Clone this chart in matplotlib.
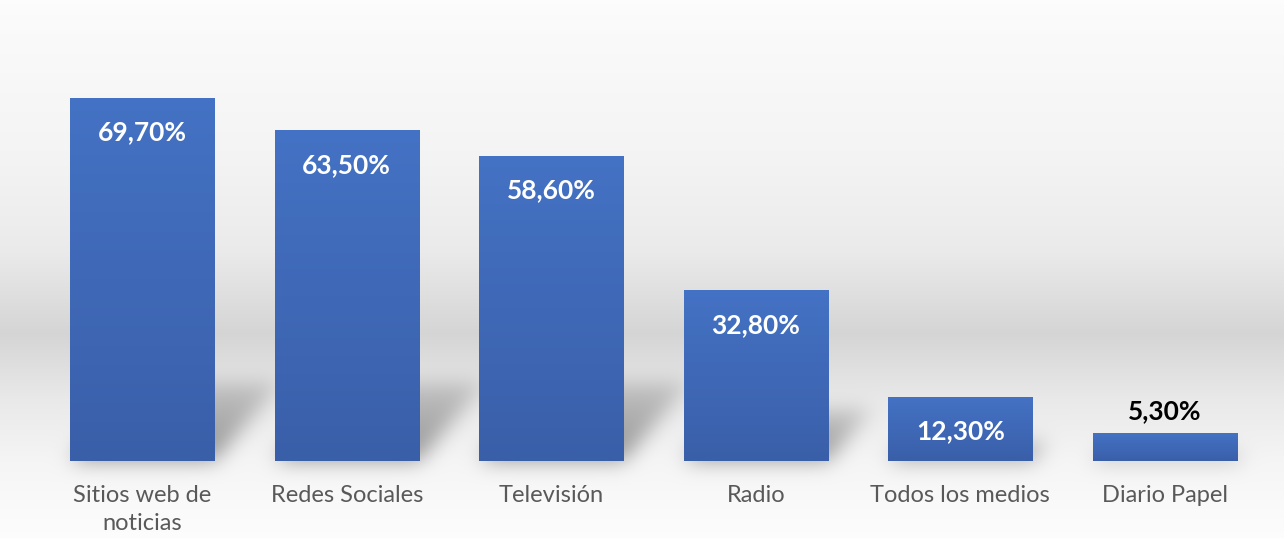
import numpy as np
import matplotlib.pyplot as plt
from matplotlib.colors import LinearSegmentedColormap

categories = ["Sitios web de\nnoticias", "Redes Sociales", "Televisión", "Radio",
              "Todos los medios", "Diario Papel"]
values = [69.7, 63.5, 58.6, 32.8, 12.3, 5.3]
value_labels = ["69,70%", "63,50%", "58,60%", "32,80%", "12,30%", "5,30%"]

plt.rcParams['font.family'] = ['Lato', 'DejaVu Sans']

W, H = 1284, 538
fig = plt.figure(figsize=(W / 100, H / 100), dpi=100)
bg_ax = fig.add_axes([0, 0, 1, 1])
bg_ax.set_axis_off()

ax = fig.add_axes([40 / W, (H - 461) / H, (1267 - 40) / W, (461 - 44) / H])
ax.patch.set_alpha(0)
x = np.arange(len(values))
bars = ax.bar(x, values, width=0.705, color="#4170c0", zorder=2)

# vertical blue gradient on every bar
bar_cmap = LinearSegmentedColormap.from_list("bar", ["#3a5fa9", "#4472c4"])
grad = np.linspace(0, 1, 256).reshape(-1, 1)
for b in bars:
    x0, y0 = b.get_x(), b.get_y()
    im = ax.imshow(grad, extent=(x0, x0 + b.get_width(), y0, y0 + b.get_height()),
                   origin="lower", cmap=bar_cmap, aspect="auto", zorder=2.5,
                   interpolation="bilinear")
    im.set_clip_path(b)

ax.set_xlim(-0.5, len(values) - 0.5)
ax.set_ylim(0, 80)
ax.set_xticks(x, categories)
ax.set_yticks([])
ax.tick_params(axis="x", length=0, pad=17, labelsize=17, labelcolor="#595959")
for lab in ax.get_xticklabels():
    lab.set_linespacing(1.45)
for s in ax.spines.values():
    s.set_visible(False)

# value labels: inside the bar when it is tall enough, above it otherwise
for xi, v, lab in zip(x, values, value_labels):
    if v > 10:
        ax.annotate(lab, (xi, v), xytext=(0, -25), textcoords="offset points",
                    ha="center", va="center", color="white", fontsize=19,
                    fontweight="bold", zorder=4)
    else:
        ax.annotate(lab, (xi, v), xytext=(0, 16), textcoords="offset points",
                    ha="center", va="center", color="black", fontsize=19,
                    fontweight="bold", zorder=4)

# background: soft grey band with perspective shadows behind the bars
rows = np.arange(H)
stops_y = [0, 11, 160, 250, 333, 400, 460, 520, 538]
stops_v = [0.99, 0.985, 0.955, 0.92, 0.835, 0.915, 0.96, 0.985, 0.99]
col = np.interp(rows, stops_y, stops_v)
bg = np.repeat(col[:, None], W, axis=1)

shadow = np.zeros((H, W))
for b in bars:
    (px0, py0), (px1, py1) = ax.transData.transform(
        [(b.get_x(), 0), (b.get_x() + b.get_width(), b.get_height())])
    bottom = H - py0
    h = py1 - py0
    sh = min(0.3 * h, 78)
    for r in range(int(bottom - sh), int(bottom)):
        d = bottom - r
        shift = 0.85 * d
        c0, c1 = int(px0 + shift), int(min(px1 + shift, W))
        shadow[r, c0:c1] = np.maximum(shadow[r, c0:c1], 1 - 0.6 * d / sh)


def blur(a, sigma):
    k = np.arange(-3 * sigma, 3 * sigma + 1)
    k = np.exp(-k ** 2 / (2 * sigma ** 2))
    k /= k.sum()
    a = np.apply_along_axis(lambda m: np.convolve(m, k, mode="same"), 0, a)
    a = np.apply_along_axis(lambda m: np.convolve(m, k, mode="same"), 1, a)
    return a


shadow = blur(shadow, 10)
bg = bg * (1 - 0.4 * shadow)
bg_ax.imshow(np.dstack([bg, bg, bg]), aspect="auto", interpolation="bilinear",
             vmin=0, vmax=1)

fig.savefig("out.png", dpi=100)
